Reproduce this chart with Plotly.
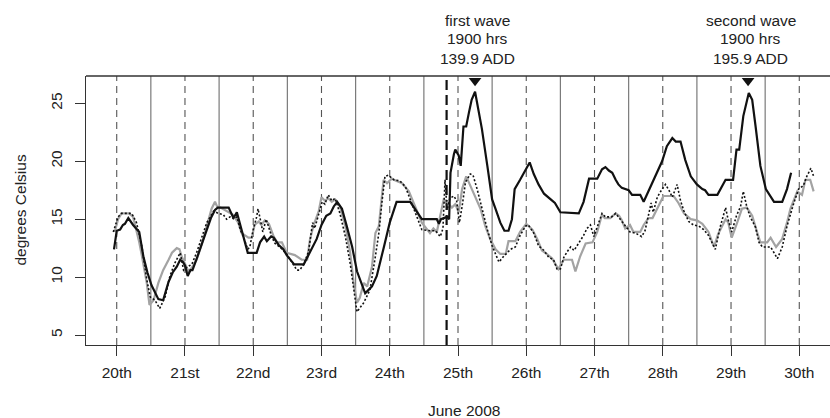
import plotly.graph_objects as go

# ---------------- data ----------------
day_ticks = [20, 21, 22, 23, 24, 25, 26, 27, 28, 29, 30]
day_labels = ["20th", "21st", "22nd", "23rd", "24th", "25th", "26th", "27th", "28th", "29th", "30th"]
midnight_lines = [20.5, 21.5, 22.5, 23.5, 24.5, 25.5, 26.5, 27.5, 28.5, 29.5]
treatment_day = 24.833
wave_days = [25.25, 29.25]
wave_text = [["first wave", "1900 hrs", "139.9 ADD"], ["second wave", "1900 hrs", "195.9 ADD"]]
y_ticks = [5, 10, 15, 20, 25]

black_x = [19.96, 20.0, 20.05, 20.09, 20.12, 20.17, 20.24, 20.3, 20.33, 20.39, 20.45, 20.51, 20.57, 20.61,
           20.68, 20.72, 20.76, 20.82, 20.88, 20.93, 20.97, 21.0, 21.04, 21.08, 21.11, 21.16, 21.22, 21.27,
           21.32, 21.38, 21.44, 21.48, 21.64, 21.66, 21.71, 21.76, 21.81, 21.86, 21.92, 22.05, 22.1, 22.16,
           22.2, 22.26, 22.3, 22.37, 22.44, 22.49, 22.54, 22.6, 22.74, 22.83, 22.93, 23.0, 23.07, 23.13,
           23.18, 23.23, 23.3, 23.37, 23.45, 23.52, 23.59, 23.64, 23.69, 23.74, 23.81, 23.86, 23.91, 24.0,
           24.1, 24.3, 24.47, 24.69, 24.72, 24.75, 24.84, 24.87, 24.89, 24.94, 24.96, 25.01, 25.04, 25.08,
           25.12, 25.16, 25.2, 25.25, 25.3, 25.35, 25.43, 25.5, 25.55, 25.62, 25.68, 25.74, 25.79, 25.83,
           25.91, 26.05, 26.11, 26.18, 26.26, 26.33, 26.38, 26.42, 26.5, 26.77, 26.84, 26.92, 27.04, 27.11,
           27.16, 27.21, 27.26, 27.31, 27.35, 27.4, 27.5, 27.55, 27.67, 27.72, 27.84, 27.99, 28.06, 28.14,
           28.19, 28.26, 28.33, 28.41, 28.5, 28.58, 28.62, 28.67, 28.8, 28.92, 29.03, 29.08, 29.12, 29.18,
           29.26, 29.31, 29.36, 29.43, 29.51, 29.58, 29.63, 29.75, 29.82, 29.88]
black_y = [12.4, 14.0, 14.1, 14.5, 14.6, 15.1, 14.5, 14.1, 13.9, 11.8, 10.4, 9.3, 8.6, 8.1,
           8.0, 8.8, 9.6, 10.4, 10.9, 11.5, 11.3, 11.0, 10.1, 10.6, 10.6, 11.4, 12.4, 13.1,
           14.1, 15.1, 15.8, 16.0, 16.0, 15.7, 15.1, 15.6, 14.5, 13.5, 12.1, 12.1, 13.0, 13.5,
           13.1, 13.5, 13.4, 12.8, 12.4, 11.9, 11.5, 11.1, 11.1, 12.1, 13.3, 14.5, 15.3, 15.5,
           16.1, 16.5, 15.9, 14.4, 12.6, 10.5, 9.3, 8.6, 8.9, 9.2, 10.1, 11.2, 12.5, 14.7,
           16.5, 16.5, 15.0, 15.0, 14.6, 15.0, 15.2, 15.0, 19.0, 20.6, 21.0, 20.5, 19.6, 23.0,
           23.0, 24.2, 25.3, 26.0, 24.5, 22.8, 19.6, 16.7, 15.9, 14.7, 14.0, 14.0, 15.0, 17.6,
           18.4, 19.9, 18.9, 18.0, 17.2, 16.8, 16.6, 16.4, 15.6, 15.5, 16.5, 18.5, 18.5, 19.3,
           19.5, 19.2, 19.0, 18.4, 18.0, 17.7, 17.5, 17.1, 17.1, 16.5, 18.1, 20.0, 21.3, 22.0,
           21.7, 21.7, 20.1, 18.7, 18.0, 17.6, 17.5, 17.1, 17.1, 18.4, 18.4, 21.0, 21.0, 23.9,
           25.9, 25.3, 23.0, 19.6, 17.6, 17.0, 16.5, 16.5, 17.6, 19.0]

grey_x = [19.97, 20.02, 20.07, 20.18, 20.24, 20.29, 20.33, 20.37, 20.44, 20.48, 20.51, 20.54, 20.61, 20.68,
          20.76, 20.81, 20.88, 20.92, 20.95, 21.0, 21.05, 21.1, 21.17, 21.25, 21.29, 21.34, 21.39, 21.44,
          21.47, 21.52, 21.6, 21.7, 21.78, 21.83, 21.93, 21.98, 22.02, 22.08, 22.12, 22.17, 22.23, 22.3,
          22.35, 22.42, 22.49, 22.61, 22.71, 22.79, 22.83, 22.88, 22.96, 23.0, 23.05, 23.1, 23.15, 23.2,
          23.27, 23.35, 23.42, 23.47, 23.52, 23.56, 23.62, 23.67, 23.74, 23.79, 23.84, 23.91, 23.96, 24.03,
          24.1, 24.18, 24.28, 24.37, 24.47, 24.59, 24.64, 24.69, 24.74, 24.79, 24.84, 24.91, 24.96, 25.01,
          25.06, 25.12, 25.18, 25.25, 25.33, 25.4, 25.47, 25.55, 25.62, 25.7, 25.74, 25.84, 25.91, 26.0,
          26.09, 26.16, 26.23, 26.3, 26.38, 26.47, 26.55, 26.67, 26.72, 26.79, 26.87, 26.97, 27.04, 27.11,
          27.15, 27.23, 27.31, 27.36, 27.4, 27.45, 27.52, 27.57, 27.67, 27.72, 27.79, 27.85, 27.92, 27.97,
          28.01, 28.16, 28.23, 28.31, 28.41, 28.5, 28.58, 28.67, 28.75, 28.81, 28.92, 28.96, 29.01, 29.09,
          29.16, 29.23, 29.31, 29.38, 29.43, 29.53, 29.58, 29.66, 29.75, 29.82, 29.87, 29.97, 30.04, 30.09,
          30.16, 30.21]
grey_y = [13.9, 15.0, 15.5, 15.5, 15.2, 14.1, 13.0, 11.8, 9.5, 7.6, 7.8, 8.0, 9.5, 10.6,
          11.5, 12.1, 12.5, 12.4, 11.8, 11.2, 10.5, 10.8, 11.5, 12.9, 13.8, 14.9, 15.9, 16.5,
          16.1, 16.0, 15.7, 15.4, 14.7, 13.8, 13.4, 13.4, 14.5, 14.8, 14.5, 14.9, 14.6, 13.5,
          13.0, 13.0, 12.1, 11.9, 11.5, 11.5, 13.2, 14.4, 15.7, 16.9, 16.6, 16.8, 16.5, 16.7,
          16.1, 14.4, 12.1, 9.6, 7.8, 8.2, 9.5, 9.2, 10.9, 13.8, 14.4, 18.4, 18.1, 18.5,
          18.3, 18.1, 17.4, 16.1, 14.7, 13.8, 14.2, 13.9, 15.3, 16.7, 16.5, 16.0, 16.3, 15.6,
          17.6, 18.7, 17.9, 17.0, 15.9, 14.4, 13.3, 12.4, 12.0, 12.0, 13.1, 13.1, 13.9, 14.6,
          14.1, 13.3, 12.3, 12.0, 11.6, 10.7, 11.5, 11.5, 10.5, 11.8, 12.9, 13.0, 13.9, 15.4,
          15.1, 15.1, 15.5, 15.3, 14.9, 14.2, 14.5, 13.9, 13.9, 14.5, 15.1, 15.1, 15.9, 16.5,
          17.0, 17.0, 16.4, 15.5, 15.0, 14.9, 14.6, 13.9, 12.6, 13.7, 15.0, 14.7, 13.4, 14.7,
          15.9, 16.0, 15.3, 13.9, 13.0, 13.0, 13.4, 12.6, 13.3, 14.7, 15.9, 17.4, 17.1, 18.4,
          18.4, 17.4]

dot_x = [19.95, 20.02, 20.07, 20.22, 20.29, 20.37, 20.44, 20.49, 20.56, 20.63, 20.71, 20.78, 20.85, 20.93,
         20.98, 21.04, 21.1, 21.17, 21.25, 21.32, 21.42, 21.49, 21.56, 21.61, 21.66, 21.72, 21.76, 21.81,
         21.86, 21.92, 21.95, 22.0, 22.05, 22.07, 22.11, 22.14, 22.19, 22.22, 22.27, 22.32, 22.39, 22.49,
         22.57, 22.64, 22.68, 22.74, 22.81, 22.87, 22.9, 22.95, 22.98, 23.01, 23.05, 23.1, 23.15, 23.2,
         23.27, 23.35, 23.42, 23.47, 23.52, 23.62, 23.71, 23.79, 23.84, 23.89, 23.93, 23.98, 24.06, 24.15,
         24.23, 24.3, 24.4, 24.47, 24.6, 24.67, 24.74, 24.78, 24.81, 24.84, 24.88, 24.94, 24.98, 25.02,
         25.06, 25.11, 25.18, 25.22, 25.28, 25.35, 25.43, 25.5, 25.55, 25.6, 25.67, 25.77, 25.84, 25.91,
         25.99, 26.03, 26.11, 26.18, 26.26, 26.33, 26.4, 26.45, 26.5, 26.55, 26.6, 26.65, 26.7, 26.77,
         26.84, 26.89, 26.94, 26.99, 27.04, 27.11, 27.16, 27.25, 27.31, 27.38, 27.45, 27.52, 27.6, 27.69,
         27.74, 27.79, 27.83, 27.86, 27.92, 27.98, 28.04, 28.09, 28.14, 28.21, 28.26, 28.31, 28.38, 28.45,
         28.53, 28.6, 28.67, 28.77, 28.84, 28.92, 28.96, 29.01, 29.08, 29.14, 29.18, 29.23, 29.28, 29.36,
         29.41, 29.46, 29.58, 29.63, 29.68, 29.75, 29.82, 29.92, 29.99, 30.06, 30.11, 30.17, 30.21]
dot_y = [13.9, 15.2, 15.5, 15.5, 14.7, 12.6, 9.8, 8.3, 8.0, 7.3, 8.3, 10.1, 11.2, 12.1,
         10.6, 10.9, 11.1, 12.1, 13.5, 14.7, 15.7, 15.5, 15.4, 15.0, 15.2, 15.0, 15.2, 14.1,
         13.4, 12.4, 12.6, 14.1, 15.2, 15.9, 14.8, 13.9, 15.0, 14.5, 13.5, 12.9, 12.6, 12.0,
         11.3, 10.6, 10.6, 11.1, 12.2, 14.7, 14.2, 15.2, 15.8, 16.5, 16.3, 17.1, 16.6, 16.8,
         15.5, 13.5, 11.2, 9.0, 7.0, 7.8, 8.9, 11.8, 13.8, 16.7, 18.7, 18.8, 18.4, 18.3,
         17.8, 16.7, 15.2, 14.1, 14.0, 14.0, 13.5, 14.2, 18.4, 15.8, 16.8, 17.0, 16.6, 14.7,
         16.1, 18.2, 18.9, 18.8, 17.6, 15.9, 14.1, 12.7, 12.0, 11.3, 11.8, 12.4, 12.6, 13.6,
         14.4, 14.5, 13.8, 12.7, 12.3, 11.7, 11.5, 10.7, 10.7, 11.7, 12.2, 12.6, 12.3, 12.9,
         13.6, 14.2, 14.5, 13.5, 14.4, 15.5, 15.2, 15.2, 15.5, 15.0, 14.5, 13.9, 13.8, 13.5,
         14.0, 15.5, 16.4, 15.6, 16.9, 17.5, 18.0, 17.5, 16.9, 18.0, 16.6, 15.7, 14.8, 14.5,
         14.4, 14.1, 13.6, 12.4, 14.3, 16.0, 14.9, 13.9, 15.3, 16.1, 17.4, 16.1, 15.2, 14.3,
         13.0, 12.6, 12.6, 12.1, 11.6, 12.6, 14.4, 16.4, 17.6, 17.9, 18.7, 19.4, 18.7]

# ---------------- figure ----------------
FONT = "Liberation Sans, Arial, Helvetica, sans-serif"
FS = 15.5
W, H = 830, 418
L, R, T, B = 86, 0, 76, 73
x_range = [19.55, 30.45]
y_range = [4.14, 27.36]

fig = go.Figure()

fig.add_trace(go.Scatter(x=grey_x, y=grey_y, mode="lines",
                         line=dict(color="#a3a3a3", width=2.2), hoverinfo="skip"))
fig.add_trace(go.Scatter(x=dot_x, y=dot_y, mode="lines",
                         line=dict(color="#111111", width=1.6, dash="2px,2px"), hoverinfo="skip"))
fig.add_trace(go.Scatter(x=black_x, y=black_y, mode="lines",
                         line=dict(color="#111111", width=2.2), hoverinfo="skip"))
fig.add_trace(go.Scatter(x=wave_days, y=[y_range[1] - 0.42] * len(wave_days), mode="markers",
                         marker=dict(symbol="triangle-down", size=11, color="#111111",
                                     line=dict(width=0)),
                         hoverinfo="skip", cliponaxis=False))

shapes = []
for d in midnight_lines:
    shapes.append(dict(type="line", xref="x", yref="paper", x0=d, x1=d, y0=0, y1=1,
                       line=dict(color="#7a7a7a", width=1.2), layer="below"))
for d in day_ticks:
    shapes.append(dict(type="line", xref="x", yref="paper", x0=d, x1=d, y0=0, y1=1,
                       line=dict(color="#555555", width=1.1, dash="7px,5px"), layer="below"))
shapes.append(dict(type="line", xref="x", yref="paper", x0=treatment_day, x1=treatment_day,
                   y0=0, y1=1, line=dict(color="#111111", width=2.2, dash="10px,5px"), layer="below"))
# frame: top line
shapes.append(dict(type="line", xref="paper", yref="paper", x0=0, x1=1, y0=1, y1=1,
                   line=dict(color="#333333", width=1.3)))
fig.update_layout(shapes=shapes)

annotations = []
plot_h = H - T - B
for d, lines in zip(wave_days, wave_text):
    for i, txt in enumerate(lines):
        py = 20 + 19 * i
        annotations.append(dict(x=d + 0.04, xref="x", y=(H - B - py) / plot_h, yref="paper",
                                text=txt, showarrow=False, xanchor="center", yanchor="middle",
                                font=dict(family=FONT, size=FS, color="#222222")))
annotations.append(dict(x=0, xref="paper", xshift=-66, y=0.5, yref="paper", text="degrees Celsius",
                        textangle=-90, showarrow=False, xanchor="center", yanchor="middle",
                        font=dict(family=FONT, size=FS, color="#222222")))
annotations.append(dict(x=0.508, xref="paper", y=0, yref="paper", yshift=-65, text="June 2008",
                        showarrow=False, xanchor="center", yanchor="middle",
                        font=dict(family=FONT, size=FS, color="#222222")))
fig.update_layout(annotations=annotations)

fig.update_layout(
    width=W, height=H,
    margin=dict(l=L, r=R, t=T, b=B, pad=0),
    paper_bgcolor="white", plot_bgcolor="white",
    showlegend=False,
    xaxis=dict(range=x_range, tickmode="array", tickvals=day_ticks, ticktext=day_labels,
               showgrid=False, zeroline=False, showline=True, linecolor="#333333", linewidth=1.3,
               ticks="outside", ticklen=10, tickwidth=1.2, tickcolor="#333333",
               ticklabelstandoff=3,
               tickfont=dict(family=FONT, size=FS, color="#222222")),
    yaxis=dict(range=y_range, tickmode="array", tickvals=y_ticks,
               ticktext=[str(v) for v in y_ticks], tickangle=-90,
               showgrid=False, zeroline=False, showline=True, linecolor="#333333", linewidth=1.3,
               ticks="outside", ticklen=10, tickwidth=1.2, tickcolor="#333333",
               ticklabelstandoff=7,
               tickfont=dict(family=FONT, size=FS, color="#222222")),
)

fig.write_html("out.html", config={"displayModeBar": False},
               post_script="document.body.style.margin='0px';document.body.style.overflow='hidden';")
